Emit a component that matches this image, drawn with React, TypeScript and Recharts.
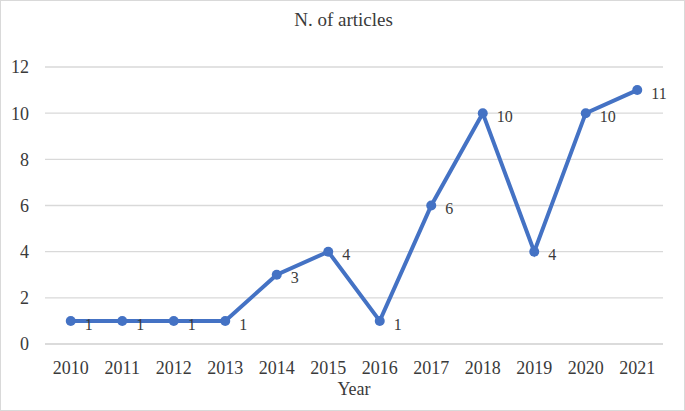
import { LineChart, Line, XAxis, YAxis, CartesianGrid, LabelList } from "recharts";

const years = ["2010", "2011", "2012", "2013", "2014", "2015", "2016", "2017", "2018", "2019", "2020", "2021"];
const articles = [1, 1, 1, 1, 3, 4, 1, 6, 10, 4, 10, 11];
const yTicks = [0, 2, 4, 6, 8, 10, 12];

const data = years.map((year, i) => ({ year, articles: articles[i] }));

const FONT = "'Liberation Serif', 'Times New Roman', serif";
const TEXT = "#3a3a3a";
const BLUE = "#4472C4";

export default function App() {
  return (
    <div
      style={{
        position: "absolute",
        left: 0,
        top: 0,
        width: 685,
        height: 411,
        boxSizing: "border-box",
        border: "1px solid #d9d9d9",
        background: "#fff",
        fontFamily: FONT,
      }}
    >
      <style>{`.recharts-wrapper text { font-family: 'Liberation Serif', 'Times New Roman', serif; }`}</style>
      <div
        style={{
          position: "absolute",
          top: 8,
          left: 0,
          width: 685,
          textAlign: "center",
          fontSize: 19,
          lineHeight: "22px",
          color: TEXT,
        }}
      >
        N. of articles
      </div>
      <div style={{ position: "absolute", left: -1, top: -1 }}>
        <LineChart width={685} height={411} data={data} margin={{ top: 67, right: 22, bottom: 0, left: 0 }}>
          <CartesianGrid vertical={false} stroke="#d9d9d9" strokeWidth={1.3} />
          <XAxis
            dataKey="year"
            height={67}
            padding={{ left: 25.75, right: 25.75 }}
            tickLine={false}
            tickSize={0}
            tickMargin={17}
            axisLine={{ stroke: "#d9d9d9", strokeWidth: 1.3 }}
            tick={{ fill: TEXT, fontSize: 18 }}
            label={{ value: "Year", position: "insideBottom", offset: 16, fill: TEXT, fontSize: 18 }}
          />
          <YAxis
            width={45}
            domain={[0, 12]}
            ticks={yTicks}
            interval={0}
            axisLine={false}
            tickLine={false}
            tickSize={0}
            tickMargin={16}
            tick={{ fill: TEXT, fontSize: 18 }}
          />
          <Line
            type="linear"
            dataKey="articles"
            stroke={BLUE}
            strokeWidth={4}
            dot={{ r: 5, fill: BLUE, stroke: BLUE, strokeWidth: 0 }}
            activeDot={false}
            isAnimationActive={false}
          >
            <LabelList dataKey="articles" position="right" offset={14} dy={3} fill={TEXT} fontSize={16} />
          </Line>
        </LineChart>
      </div>
    </div>
  );
}
